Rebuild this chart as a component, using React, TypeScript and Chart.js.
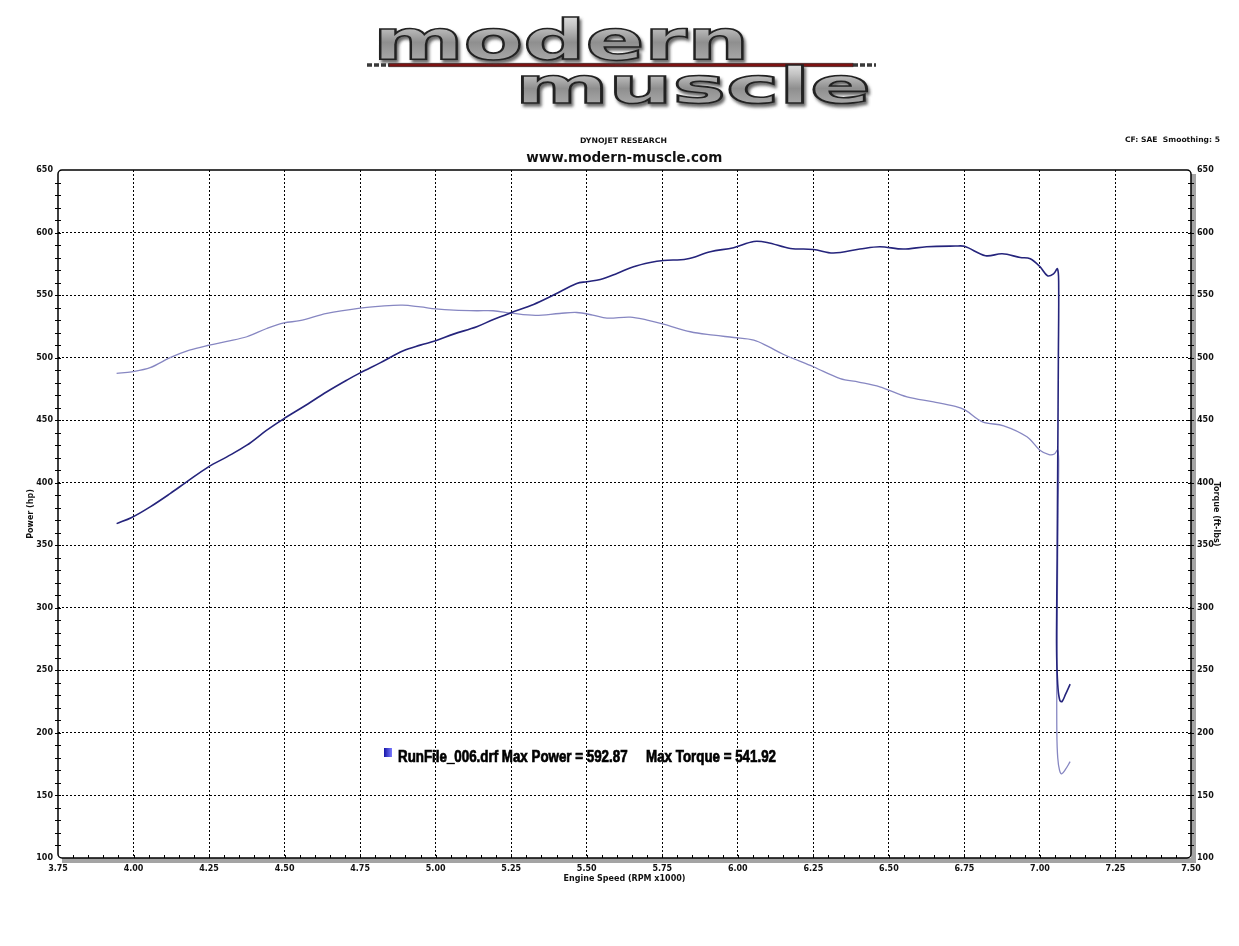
import React, { useEffect, useRef } from "react";
import { Chart, registerables } from "chart.js";

Chart.register(...registerables);

// ---- data ----
const powerRpm = [
  3.944, 3.994, 4.055, 4.121, 4.176, 4.248, 4.309, 4.375, 4.441, 4.498, 4.562, 4.64, 4.706, 4.75, 4.816,
  4.893, 4.949, 5.0, 5.059, 5.136, 5.191, 5.249, 5.324, 5.39, 5.467, 5.5, 5.545, 5.6, 5.655, 5.71, 5.754,
  5.831, 5.909, 5.986, 6.053, 6.097, 6.174, 6.25, 6.316, 6.404, 6.47, 6.547, 6.625, 6.72, 6.75, 6.82,
  6.875, 6.935, 6.968, 7.0, 7.025, 7.045, 7.058, 7.062, 7.061, 7.059, 7.057, 7.055, 7.056, 7.06, 7.066,
  7.073, 7.085, 7.1,
];
const powerHp = [
  367.3, 372.2, 380.7, 391.3, 400.7, 412.7, 420.7, 430, 442, 451.3, 460.7, 472.7, 482, 487.8, 495.8,
  505.5, 510, 513.5, 518.8, 524.7, 530.5, 535.9, 542.5, 550, 559.3, 560.7, 562.5, 567.3, 572.7, 576.1, 577.7,
  578.8, 584.7, 587.9, 592.87, 592.1, 587.3, 586.5, 583.6, 586.8, 588.7, 586.8, 588.7, 589.2, 589, 581.5,
  583, 580.1, 579, 572.7, 565.5, 567, 571, 560, 500, 420, 340, 280, 255, 235, 226,
  225, 231, 239,
];
const torqueRpm = [
  3.944, 3.994, 4.055, 4.121, 4.185, 4.25, 4.309, 4.375, 4.441, 4.498, 4.55, 4.64, 4.75, 4.82, 4.89,
  4.95, 5.0, 5.06, 5.136, 5.19, 5.25, 5.33, 5.41, 5.467, 5.52, 5.567, 5.644, 5.7, 5.754, 5.843, 5.92,
  5.986, 6.053, 6.1, 6.152, 6.25, 6.339, 6.4, 6.47, 6.56, 6.648, 6.72, 6.753, 6.81, 6.88, 6.957, 7.0,
  7.03, 7.048, 7.058, 7.062, 7.06, 7.058, 7.056, 7.056, 7.059, 7.065, 7.072, 7.085, 7.1,
];
const torqueFtLbs = [
  487.4, 488.7, 492, 500, 506, 510, 513, 516.7, 523.3, 527.8, 529.5, 535.3, 539.6, 541.2, 541.92,
  540.5, 539, 538, 537.5, 537.5, 535.6, 533.8, 535.3, 536.1, 534, 531.6, 532.4, 530, 526.8, 520.7, 518,
  516.1, 514, 509, 502.5, 492.7, 483.3, 480.5, 476.7, 468.7, 464.7, 461, 458, 448.7, 445.5, 436.7, 426,
  422.5, 423, 426, 418, 380, 320, 250, 200, 180, 170, 167.3, 171, 177,
];
const xRange = [3.75, 7.5];
const xMajorStep = 0.25;
const xMinorStep = 0.05;
const yRange = [100, 650];
const yMajorStep = 50;
const yMinorStep = 10;

const powerColor = "#25247c";
const torqueColor = "#8787c2";
const FONT = "'DejaVu Sans', Verdana, sans-serif";

const isMultiple = (v: number, step: number) => Math.abs(v / step - Math.round(v / step)) < 1e-6;

const framePlugin = {
  id: "dynoFrame",
  afterDraw(chart: any) {
    const { ctx, chartArea } = chart;
    const { left, top, right, bottom } = chartArea;
    ctx.save();
    ctx.fillStyle = "#a4a4a4";
    ctx.fillRect(right, top + 4, 5, bottom - top + 1);
    ctx.fillRect(left + 4, bottom, right - left + 1, 5);
    ctx.strokeStyle = "#000";
    ctx.lineWidth = 1.5;
    ctx.beginPath();
    if (ctx.roundRect) ctx.roundRect(left, top, right - left, bottom - top, 4);
    else ctx.rect(left, top, right - left, bottom - top);
    ctx.stroke();
    ctx.lineWidth = 1;
    ctx.beginPath();
    const yl = chart.scales.y;
    const yr = chart.scales.y2;
    const xs = chart.scales.x;
    for (const t of yl.ticks) {
      if (t.value <= yRange[0] || t.value >= yRange[1]) continue;
      const py = Math.round(yl.getPixelForValue(t.value)) + 0.5;
      ctx.moveTo(left - 3, py);
      ctx.lineTo(left + 3, py);
    }
    for (const t of yr.ticks) {
      if (t.value <= yRange[0] || t.value >= yRange[1]) continue;
      const py = Math.round(yr.getPixelForValue(t.value)) + 0.5;
      ctx.moveTo(right - 3, py);
      ctx.lineTo(right + 3, py);
    }
    for (const t of xs.ticks) {
      if (t.value <= xRange[0] + 1e-6 || t.value >= xRange[1] - 1e-6) continue;
      const px = Math.round(xs.getPixelForValue(t.value)) + 0.5;
      ctx.moveTo(px, bottom - 3);
      ctx.lineTo(px, bottom);
    }
    ctx.stroke();
    ctx.restore();
  },
};

function DynoChart() {
  const ref = useRef<HTMLCanvasElement | null>(null);
  useEffect(() => {
    if (!ref.current) return;
    const tickFont = { family: FONT, size: 8, weight: "bold" as const };
    const titleFont = { family: FONT, size: 8, weight: "bold" as const };
    const yGridColor = (c: any) => {
      const v = c.tick?.value;
      if (v === undefined) return "rgba(0,0,0,0)";
      return isMultiple(v, yMajorStep) && v > yRange[0] && v < yRange[1] ? "#000" : "rgba(0,0,0,0)";
    };
    const chart = new Chart(ref.current, {
      type: "line",
      data: {
        datasets: [
          {
            label: "Power",
            data: powerRpm.map((x, i) => ({ x, y: powerHp[i] })),
            borderColor: powerColor,
            borderWidth: 1.6,
            pointRadius: 0,
            tension: 0.35,
            fill: false,
            yAxisID: "y",
          },
          {
            label: "Torque",
            data: torqueRpm.map((x, i) => ({ x, y: torqueFtLbs[i] })),
            borderColor: torqueColor,
            borderWidth: 1.3,
            pointRadius: 0,
            tension: 0.35,
            fill: false,
            yAxisID: "y2",
          },
        ],
      },
      options: {
        responsive: false,
        animation: false,
        events: [],
        devicePixelRatio: 1,
        layout: { padding: { top: 170, left: 0, right: 0, bottom: 0 } },
        plugins: { legend: { display: false }, tooltip: { enabled: false } },
        scales: {
          x: {
            type: "linear",
            min: xRange[0],
            max: xRange[1],
            afterFit: (s: any) => {
              s.height = 88;
            },
            ticks: {
              stepSize: xMinorStep,
              autoSkip: false,
              maxRotation: 0,
              padding: 6,
              color: "#111",
              font: tickFont,
              callback: (v: any) => (isMultiple(Number(v), xMajorStep) ? Number(v).toFixed(2) : ""),
            },
            grid: {
              drawTicks: false,
              lineWidth: 1,
              color: (c: any) => {
                const v = c.tick?.value;
                if (v === undefined) return "rgba(0,0,0,0)";
                return isMultiple(v, xMajorStep) && v > xRange[0] + 1e-6 && v < xRange[1] - 1e-6
                  ? "#000"
                  : "rgba(0,0,0,0)";
              },
            },
            border: { display: false, dash: [2, 2] },
            title: {
              display: true,
              text: "Engine Speed (RPM x1000)",
              color: "#111",
              font: titleFont,
              padding: { top: 0, bottom: 62.5 },
            },
          },
          y: {
            type: "linear",
            position: "left",
            min: yRange[0],
            max: yRange[1],
            afterFit: (s: any) => {
              s.width = 58;
            },
            ticks: {
              stepSize: yMinorStep,
              autoSkip: false,
              padding: 5,
              color: "#111",
              font: tickFont,
              callback: (v: any) => (isMultiple(Number(v), yMajorStep) ? String(v) : ""),
            },
            grid: { drawTicks: false, lineWidth: 1, color: yGridColor },
            border: { display: false, dash: [2, 2] },
            title: {
              display: true,
              text: "Power (hp)",
              color: "#111",
              font: titleFont,
              padding: { top: 26.5, bottom: 0 },
            },
          },
          y2: {
            type: "linear",
            position: "right",
            min: yRange[0],
            max: yRange[1],
            afterFit: (s: any) => {
              s.width = 48;
            },
            ticks: {
              stepSize: yMinorStep,
              autoSkip: false,
              padding: 6,
              color: "#111",
              font: tickFont,
              callback: (v: any) => (isMultiple(Number(v), yMajorStep) ? String(v) : ""),
            },
            grid: { drawOnChartArea: false, drawTicks: false },
            border: { display: false },
            title: {
              display: true,
              text: "Torque (ft-lbs)",
              color: "#111",
              font: titleFont,
              padding: { top: 18, bottom: 0 },
            },
          },
        },
      },
      plugins: [framePlugin],
    } as any);
    return () => chart.destroy();
  }, []);
  return (
    <canvas
      ref={ref}
      width={1239}
      height={946}
      style={{ position: "absolute", left: 0, top: 0, width: 1239, height: 946 }}
    />
  );
}

function Overlay() {
  return (
    <svg
      width={1239}
      height={946}
      style={{ position: "absolute", left: 0, top: 0, pointerEvents: "none" }}
    >
      <defs>
        <linearGradient id="chrome" x1="0" y1="0" x2="0" y2="1">
          <stop offset="0" stopColor="#f6f6f6" />
          <stop offset="0.3" stopColor="#c4c4c4" />
          <stop offset="0.55" stopColor="#8f8f8f" />
          <stop offset="0.8" stopColor="#a6a6a6" />
          <stop offset="1" stopColor="#d6d6d6" />
        </linearGradient>
        <linearGradient id="legSq" x1="0" y1="0" x2="1" y2="0">
          <stop offset="0" stopColor="#1616a8" />
          <stop offset="1" stopColor="#7a7aff" />
        </linearGradient>
        <filter id="shadow" x="-5%" y="-20%" width="110%" height="150%">
          <feDropShadow dx="2" dy="3" stdDeviation="1.4" floodColor="#444" floodOpacity="0.8" />
        </filter>
      </defs>
      {/* logo */}
      <line x1={367} y1={65} x2={389} y2={65} stroke="#3a3a3a" strokeWidth={3.5} strokeDasharray="5 2" />
      <line x1={853} y1={65} x2={876} y2={65} stroke="#3a3a3a" strokeWidth={3.5} strokeDasharray="5 2" />
      <rect x={389} y={63.2} width={464} height={3.6} fill="#7d1212" stroke="#2a2a2a" strokeWidth={0.6} />
      <text
        x={373}
        y={58.5}
        fontFamily={FONT}
        fontWeight="bold"
        fontSize={56}
        textLength={376}
        lengthAdjust="spacingAndGlyphs"
        fill="url(#chrome)"
        stroke="#222"
        strokeWidth={1.6}
        filter="url(#shadow)"
      >
        modern
      </text>
      <text
        x={515}
        y={102.5}
        fontFamily={FONT}
        fontWeight="bold"
        fontSize={50}
        textLength={356}
        lengthAdjust="spacingAndGlyphs"
        fill="url(#chrome)"
        stroke="#222"
        strokeWidth={1.6}
        filter="url(#shadow)"
      >
        muscle
      </text>
      {/* header texts */}
      <text
        x={623.5}
        y={143}
        textAnchor="middle"
        fontFamily={FONT}
        fontWeight="bold"
        fontSize={7.5}
        textLength={87}
        lengthAdjust="spacingAndGlyphs"
        fill="#111"
      >
        DYNOJET RESEARCH
      </text>
      <text
        x={624.3}
        y={162}
        textAnchor="middle"
        fontFamily={FONT}
        fontWeight="bold"
        fontSize={14.5}
        textLength={196}
        lengthAdjust="spacingAndGlyphs"
        fill="#111"
      >
        www.modern-muscle.com
      </text>
      <text
        x={1220}
        y={141.7}
        textAnchor="end"
        fontFamily={FONT}
        fontWeight="bold"
        fontSize={7.5}
        textLength={95}
        lengthAdjust="spacingAndGlyphs"
        fill="#111"
        style={{ whiteSpace: "pre" }}
      >
        {"CF: SAE  Smoothing: 5"}
      </text>
      {/* legend */}
      <rect x={384} y={748} width={8} height={9} fill="url(#legSq)" />
      <text
        x={398}
        y={761.5}
        fontFamily="'Liberation Sans', Arial, sans-serif"
        fontWeight="bold"
        fontSize={16}
        textLength={378}
        lengthAdjust="spacingAndGlyphs"
        fill="#000"
        stroke="#000"
        strokeWidth={0.7}
        style={{ whiteSpace: "pre" }}
      >
        {"RunFile_006.drf Max Power = 592.87     Max Torque = 541.92"}
      </text>
    </svg>
  );
}

export default function App() {
  return (
    <div
      style={{
        position: "absolute",
        left: 0,
        top: 0,
        width: 1239,
        height: 946,
        background: "#fff",
        overflow: "hidden",
      }}
    >
      <DynoChart />
      <Overlay />
    </div>
  );
}
